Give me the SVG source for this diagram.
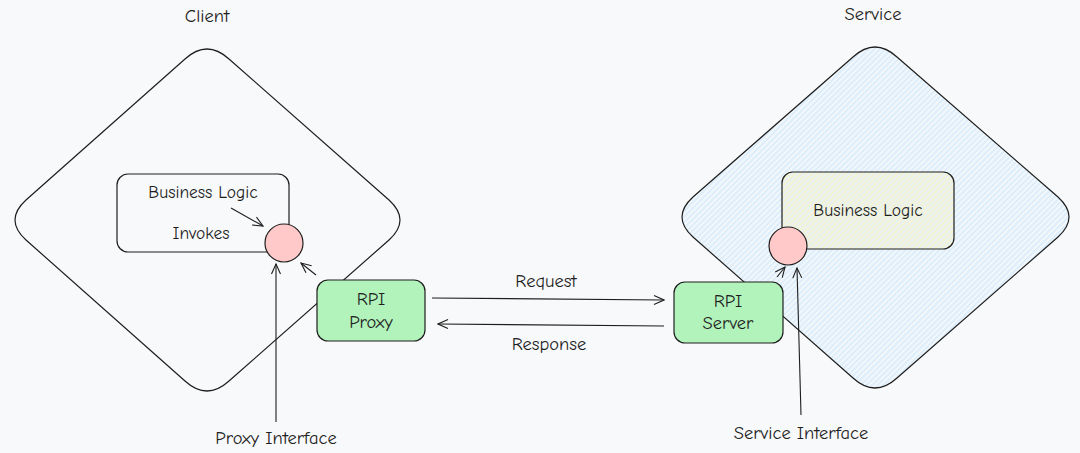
<svg xmlns="http://www.w3.org/2000/svg" width="1080" height="453" viewBox="0 0 1080 453">
<style>
text{font-family:"Comic Neue","Liberation Sans",sans-serif;font-size:18.5px;fill:#1e1e1e;text-anchor:middle}
.bl{font-size:17.5px}
.ol{fill:none;stroke:#1e1e1e;stroke-width:1.2}
.box{stroke:#1e1e1e;stroke-width:1.2}
.green{fill:#b2f2bb}
.pink{fill:#ffc9c9}
.con{fill:none;stroke:#1e1e1e;stroke-width:1.1;marker-end:url(#ah)}
</style>
<defs>
<marker id="ah" viewBox="0 0 12 12" refX="11" refY="6" markerWidth="12" markerHeight="12" markerUnits="userSpaceOnUse" orient="auto">
<path d="M1,1.5 L11,6 L1,10.5" fill="none" stroke="#1e1e1e" stroke-width="1.1"/>
</marker>
<pattern id="hb" width="4" height="4" patternUnits="userSpaceOnUse" patternTransform="rotate(45)">
<rect width="4" height="4" fill="#f2f7fb"/>
<line x1="1" y1="0" x2="1" y2="4" stroke="#c3e1fa" stroke-width="0.9"/>
</pattern>
<pattern id="hy" width="4" height="4" patternUnits="userSpaceOnUse" patternTransform="rotate(45)">
<rect width="4" height="4" fill="#f3f6ef"/>
<line x1="1" y1="0" x2="1" y2="4" stroke="#f7eeb5" stroke-width="0.9"/>
<line x1="3" y1="0" x2="3" y2="4" stroke="#d6e9f7" stroke-width="0.7"/>
</pattern>
</defs>
<rect width="1080" height="453" fill="#f8f9fa"/>

<g id="client">
<path class="ol" d="M229,59 L389,200 Q411,220 389,240 L229,381 Q207,401 185,381 L26,240 Q4,220 26,200 L185,59 Q207,39 229,59 Z"/>
<text x="207" y="22">Client</text>
</g>

<g id="service">
<path class="ol" style="fill:url(#hb)" d="M897,57 L1058,197 Q1080,217 1058,237 L897,378 Q875,398 853,378 L693,237 Q671,217 693,197 L853,57 Q875,37 897,57 Z"/>
<text x="873" y="20">Service</text>
</g>

<g id="client-logic">
<rect x="117" y="174" width="172" height="78" rx="11" class="box" fill="#f8f9fa"/>
<text class="bl" x="203" y="198">Business Logic</text>
<text class="bl" x="201" y="239">Invokes</text>
</g>

<g id="service-logic">
<rect x="782" y="172" width="172" height="77" rx="11" class="box" fill="url(#hy)"/>
<text class="bl" x="868" y="216">Business Logic</text>
</g>

<g id="client-interface">
<circle cx="284" cy="243" r="19" class="box pink"/>
</g>

<g id="service-interface">
<circle cx="788" cy="246" r="19" class="box pink"/>
</g>

<g id="rpi-proxy">
<rect x="317" y="280" width="108" height="61" rx="11" class="box green"/>
<text x="371" y="305">RPI</text>
<text x="371" y="328">Proxy</text>
</g>

<g id="rpi-server">
<rect x="674" y="282" width="109" height="61" rx="11" class="box green"/>
<text x="728" y="307">RPI</text>
<text x="728" y="329">Server</text>
</g>

<g id="labels">
<text x="276" y="444">Proxy Interface</text>
<text x="801" y="439">Service Interface</text>
</g>

<g id="connectors">
<path class="con" d="M231,208 L263,226"/>
<path class="con" d="M316,275 L301,263"/>
<path class="con" d="M276,422 L276,264"/>
<path class="con" d="M432,298 L664,300"/>
<path class="con" d="M664,326 L438,324"/>
<path class="con" d="M777,277 L785,267"/>
<path class="con" d="M801,415 L797,268"/>
<text x="546" y="287">Request</text>
<text x="549" y="350">Response</text>
</g>
</svg>
